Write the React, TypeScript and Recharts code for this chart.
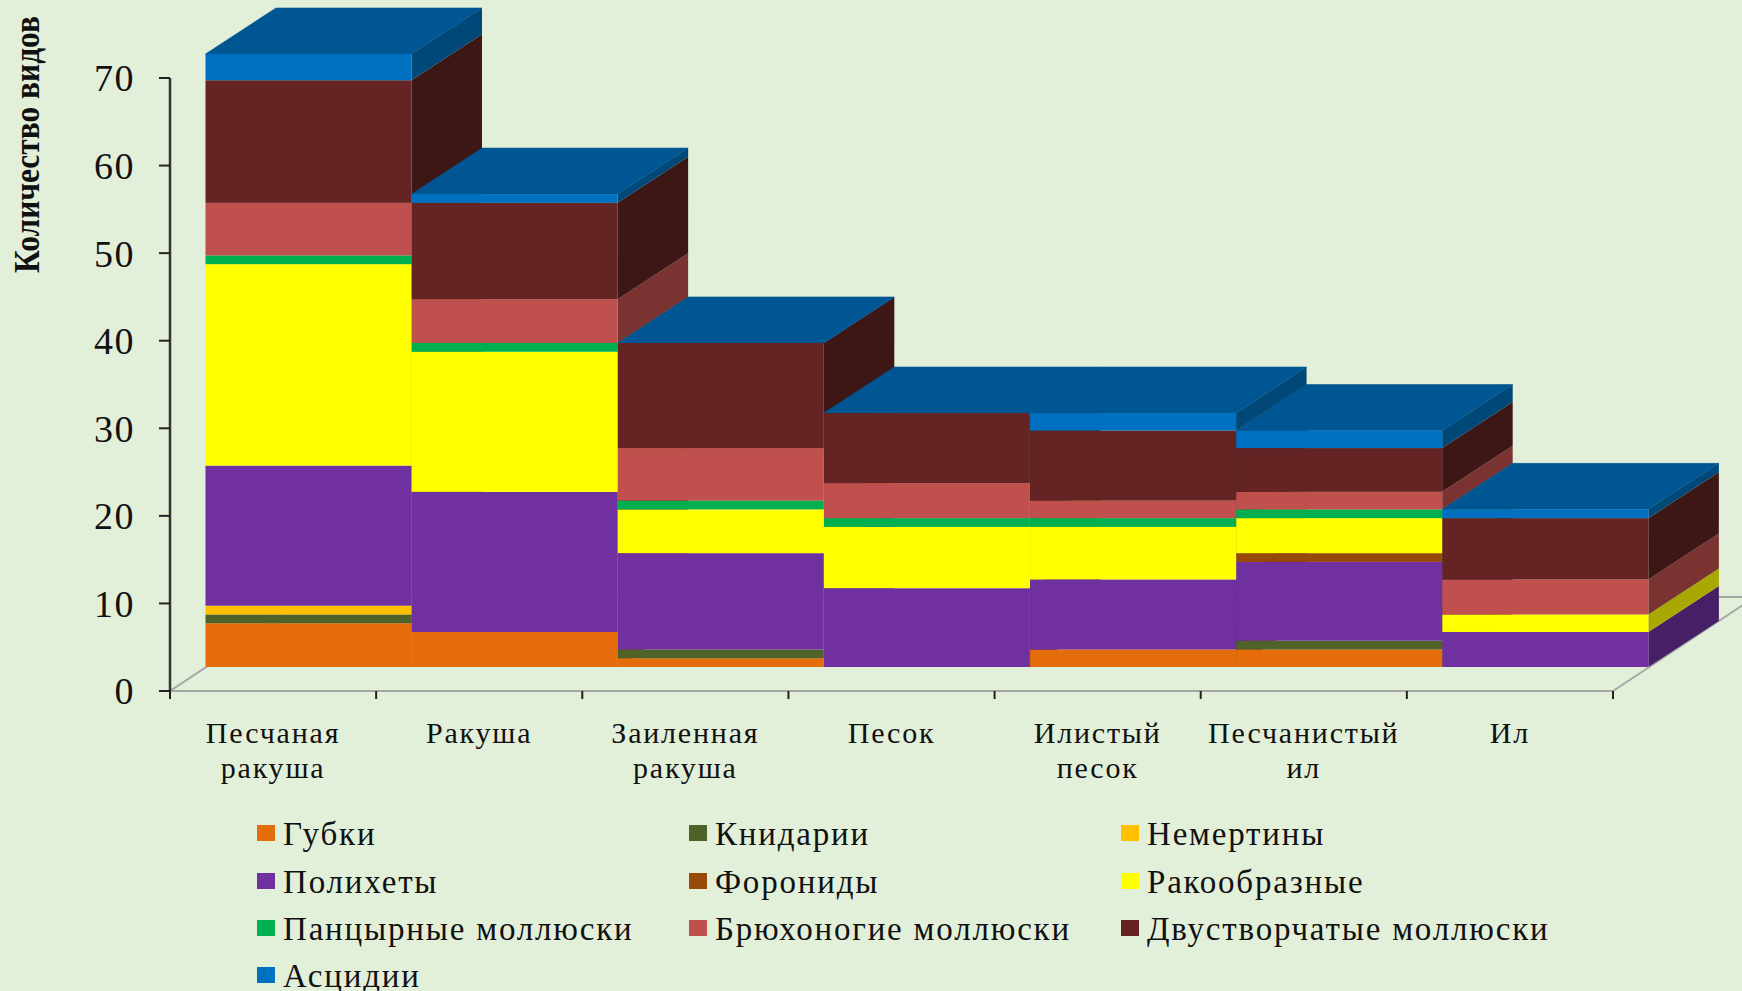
import React from "react";
import { BarChart, Bar, XAxis, YAxis, Legend } from "recharts";

const categories = [
  "Песчаная ракуша",
  "Ракуша",
  "Заиленная ракуша",
  "Песок",
  "Илистый песок",
  "Песчанистый ил",
  "Ил",
];

const sponges = [5, 4, 1, 0, 2, 2, 0];
const cnidaria = [1, 0, 1, 0, 0, 1, 0];
const nemertea = [1, 0, 0, 0, 0, 0, 0];
const polychaetes = [16, 16, 11, 9, 8, 9, 4];
const phoronids = [0, 0, 0, 0, 0, 1, 0];
const crustaceans = [23, 16, 5, 7, 6, 4, 2];
const chitons = [1, 1, 1, 1, 1, 1, 0];
const gastropods = [6, 5, 6, 4, 2, 2, 4];
const bivalves = [14, 11, 12, 8, 8, 5, 7];
const ascidians = [3, 1, 0, 0, 2, 2, 1];

const yTicks = [0, 10, 20, 30, 40, 50, 60, 70];

const SERIES = [
  { key: "sponges", name: "Губки", values: sponges, fill: "#E46C0A", side: "#94460A" },
  { key: "cnidaria", name: "Книдарии", values: cnidaria, fill: "#4F6228", side: "#33401A" },
  { key: "nemertea", name: "Немертины", values: nemertea, fill: "#FFC000", side: "#A67D00" },
  { key: "polychaetes", name: "Полихеты", values: polychaetes, fill: "#7030A0", side: "#471F66" },
  { key: "phoronids", name: "Форониды", values: phoronids, fill: "#984807", side: "#632F05" },
  { key: "crustaceans", name: "Ракообразные", values: crustaceans, fill: "#FFFF00", side: "#A8A800" },
  { key: "chitons", name: "Панцырные моллюски", values: chitons, fill: "#00B050", side: "#007334" },
  { key: "gastropods", name: "Брюхоногие моллюски", values: gastropods, fill: "#C0504D", side: "#7A3331" },
  { key: "bivalves", name: "Двустворчатые моллюски", values: bivalves, fill: "#632423", side: "#3D1716" },
  { key: "ascidians", name: "Асцидии", values: ascidians, fill: "#0070C0", side: "#004878" },
];

const TOP_COLOR = "#005693";
const BG = "#E2EFD9";
const INK = "#111";
const SERIF = "'Liberation Serif', serif";

const data = categories.map((name, i) => {
  const row: Record<string, any> = { name };
  SERIES.forEach((s) => (row[s.key] = s.values[i]));
  return row;
});

// the "3d" look: bars sit shifted back on the floor, and have a depth
const SHIFT_X = 35.5;
const SHIFT_Y = 24;
const DEPTH_X = 70.5;
const DEPTH_Y = 46;

function FrontFace({ x, y, width, height, fill }: any) {
  return <rect x={x + SHIFT_X} y={y - SHIFT_Y} width={width} height={height} fill={fill} />;
}

function SideFace({ x, y, width, height, sideFill, withTop }: any) {
  const l = x + SHIFT_X;
  const r = l + width;
  const t = y - SHIFT_Y;
  const b = t + height;
  return (
    <g>
      <polygon
        points={`${r},${t} ${r + DEPTH_X},${t - DEPTH_Y} ${r + DEPTH_X},${b - DEPTH_Y} ${r},${b}`}
        fill={sideFill}
      />
      {withTop && (
        <polygon
          points={`${l},${t} ${l + DEPTH_X},${t - DEPTH_Y} ${r + DEPTH_X},${t - DEPTH_Y} ${r},${t}`}
          fill={TOP_COLOR}
          stroke={TOP_COLOR}
          strokeWidth={0.6}
        />
      )}
    </g>
  );
}

function CategoryTick({ x, payload }: any) {
  const band = 206.14;
  const words = String(payload.value).split(" ");
  const left = x - band / 2;
  const isLast = payload.index === categories.length - 1;
  return (
    <g>
      <line x1={left} x2={left} y1={691} y2={699} stroke="#222" strokeWidth={2} />
      {isLast && (
        <line x1={left + band} x2={left + band} y1={691} y2={699} stroke="#222" strokeWidth={2} />
      )}
      {words.map((w, i) => (
        <text
          key={i}
          x={x}
          y={743 + i * 35}
          textAnchor="middle"
          fontFamily={SERIF}
          fontSize={30}
          letterSpacing={1.8}
          fill={INK}
        >
          {w}
        </text>
      ))}
    </g>
  );
}

function AxisTitle() {
  return (
    <text
      transform="translate(39,273) rotate(-90)"
      fontFamily={SERIF}
      fontWeight="bold"
      fontSize={36}
      textLength={257}
      lengthAdjust="spacingAndGlyphs"
      fill={INK}
    >
      Количество видов
    </text>
  );
}

function LegendGrid({ payload }: any) {
  const items = (payload || []).filter((p: any) => p.type !== "none");
  return (
    <div
      style={{
        display: "grid",
        gridTemplateColumns: "432px 432px 500px",
        gridAutoRows: "47.4px",
        fontFamily: SERIF,
        fontSize: 33,
        letterSpacing: 1.8,
        color: INK,
      }}
    >
      {items.map((p: any) => (
        <div key={p.value} style={{ display: "flex", alignItems: "center", whiteSpace: "nowrap" }}>
          <span
            style={{
              display: "inline-block",
              width: 18,
              height: 16,
              marginRight: 8,
              marginTop: -3,
              background: p.color,
            }}
          />
          {p.value}
        </div>
      ))}
    </div>
  );
}

export default function App() {
  return (
    <div
      style={{
        position: "absolute",
        left: 0,
        top: 0,
        width: 1742,
        height: 991,
        background: BG,
        overflow: "hidden",
      }}
    >
      <BarChart
        width={1742}
        height={991}
        data={data}
        barCategoryGap={0}
        barGap={0}
        margin={{ top: 78, right: 129, bottom: 0, left: 0 }}
      >
        <line x1={170} y1={691} x2={312} y2={597} stroke="#A6A6A6" strokeWidth={2} />
        <line x1={1613} y1={691} x2={1755} y2={597} stroke="#A6A6A6" strokeWidth={2} />
        <line x1={312} y1={597} x2={1755} y2={597} stroke="#A6A6A6" strokeWidth={2} />
        <XAxis
          dataKey="name"
          height={300}
          interval={0}
          axisLine={{ stroke: "#A6A6A6", strokeWidth: 2 }}
          tickLine={false}
          tick={<CategoryTick />}
        />
        <XAxis dataKey="name" xAxisId="depth" hide />
        <YAxis
          width={170}
          domain={[0, 70]}
          ticks={yTicks}
          tickSize={11}
          tickMargin={24}
          axisLine={{ stroke: "#333", strokeWidth: 2.5 }}
          tickLine={{ stroke: "#222", strokeWidth: 2 }}
          tick={{ fontFamily: SERIF, fontSize: 38, fill: INK, letterSpacing: 1.5 }}
          label={{ content: <AxisTitle /> }}
        />
        <Legend
          layout="vertical"
          align="center"
          verticalAlign="middle"
          itemSorter={null}
          wrapperStyle={{ left: 257, top: 811, width: 1400, bottom: "auto", right: "auto" }}
          content={<LegendGrid />}
        />
        {SERIES.map((s, i) => (
          <Bar
            key={"side-" + s.key}
            xAxisId="depth"
            dataKey={s.key}
            stackId="depth"
            legendType="none"
            isAnimationActive={false}
            shape={(props: any) => (
              <SideFace {...props} sideFill={s.side} withTop={i === SERIES.length - 1} />
            )}
          />
        ))}
        {SERIES.map((s) => (
          <Bar
            key={s.key}
            dataKey={s.key}
            name={s.name}
            stackId="front"
            fill={s.fill}
            isAnimationActive={false}
            shape={(props: any) => <FrontFace {...props} fill={s.fill} />}
          />
        ))}
      </BarChart>
    </div>
  );
}
